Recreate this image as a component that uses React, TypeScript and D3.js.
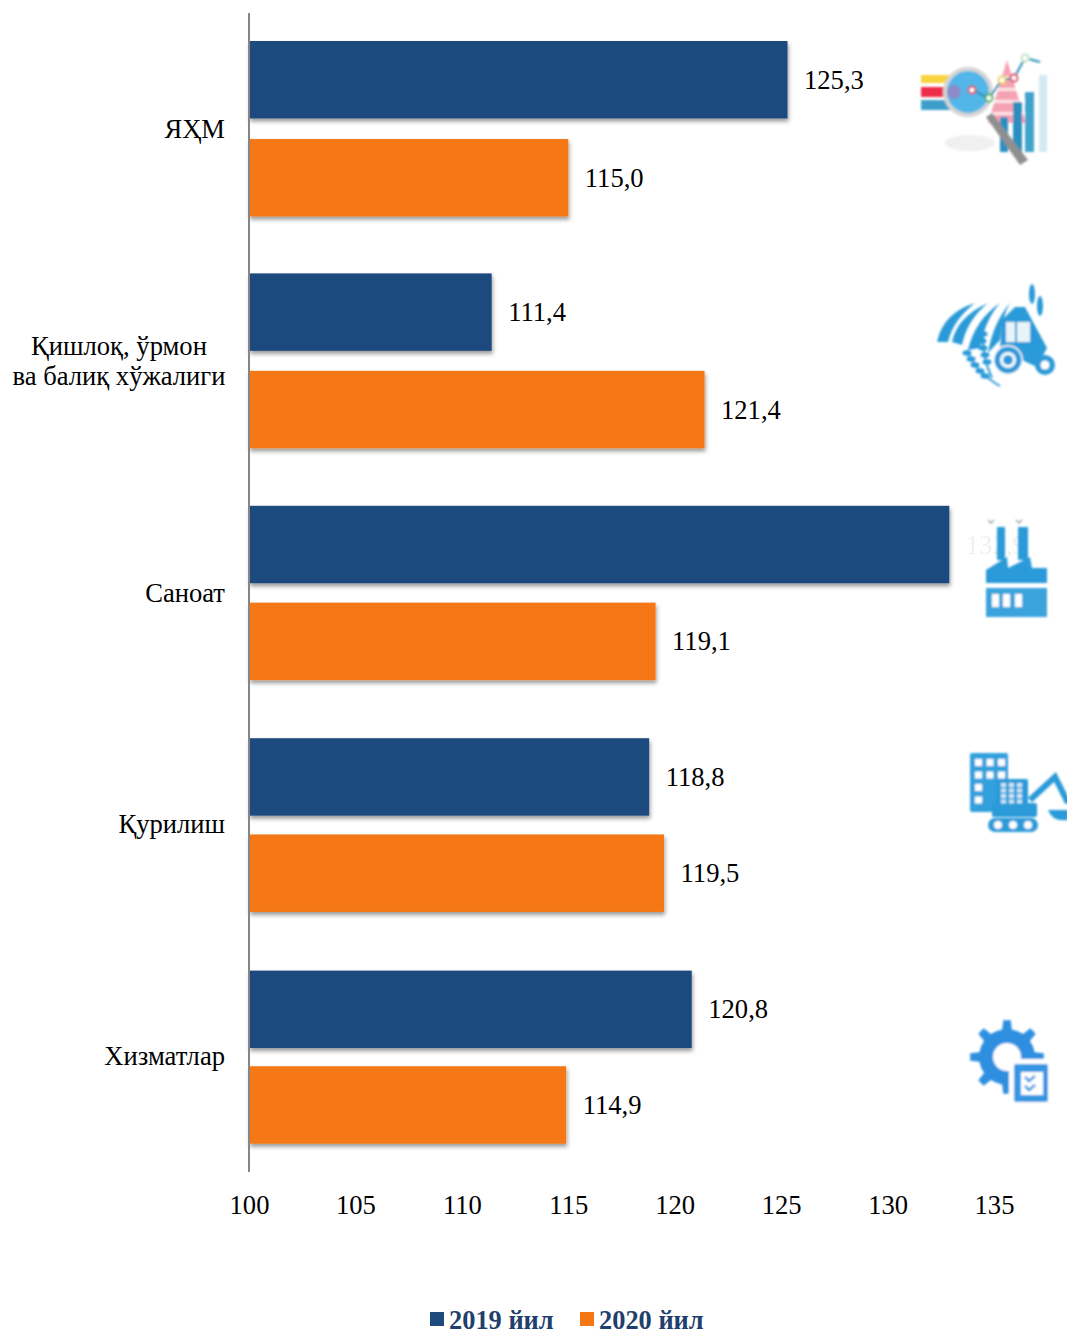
import { useEffect, useRef } from 'react';
import * as d3 from 'd3';

const categories = ['ЯҲМ', 'Қишлоқ, ўрмон|ва балиқ хўжалиги', 'Саноат', 'Қурилиш', 'Хизматлар'];
const seriesNames = ['2019 йил', '2020 йил'];
const values2019 = [125.3, 111.4, 132.9, 118.8, 120.8];
const values2020 = [115.0, 121.4, 119.1, 119.5, 114.9];
const xTicks = [100, 105, 110, 115, 120, 125, 130, 135];
const seriesColors = ['#1F4A7E', '#F57713'];

const WIDTH = 1067;
const HEIGHT = 1331;
const FONT = '"Liberation Serif", serif';
const FONT_SIZE = 26.6;
const ICON_BLUE = '#2C9AD8';

type Sel = d3.Selection<SVGGElement, unknown, null, undefined>;

function poly(g: Sel, pts: number[][], fill: string) {
  return g.append('path').attr('d', d3.line()(pts as [number, number][]) + 'Z').attr('fill', fill);
}

function box(g: Sel, x0: number, y0: number, x1: number, y1: number, fill: string, rx = 0) {
  return g.append('rect').attr('x', x0).attr('y', y0).attr('width', x1 - x0).attr('height', y1 - y0).attr('rx', rx).attr('fill', fill);
}

function drawAnalyticsIcon(g: Sel) {
  g.append('ellipse').attr('cx', 970).attr('cy', 143).attr('rx', 25).attr('ry', 8).attr('fill', '#f0f0f0');
  box(g, 921, 75, 955, 83, '#F7D33C');
  box(g, 921, 87, 950, 97, '#EC2F4B');
  box(g, 921, 100, 950, 110, '#3C9FC9');
  poly(g, [[1007, 60], [988, 123], [1026, 123]], '#F5A3B2');
  [76, 88, 100, 112].forEach((y) => {
    box(g, 985, y, 1030, y + 3, '#ffffff').attr('opacity', 0.7);
  });
  box(g, 1000, 117, 1008, 152, '#2A8FBF');
  box(g, 1013, 102, 1022, 152, '#2A8FBF');
  box(g, 1025, 92, 1034, 152, '#3FA3CC');
  box(g, 1039, 75, 1047, 152, '#D3EAF5');
  g.append('path').attr('d', 'M986 117 L992 113 L1028 160 L1020 165Z').attr('fill', '#8f8f8f');
  g.append('circle').attr('cx', 968).attr('cy', 92).attr('r', 23)
    .attr('fill', '#52B6E8').attr('stroke', '#d5d5d5').attr('stroke-width', 4);
  g.append('circle').attr('cx', 954).attr('cy', 92).attr('r', 7).attr('fill', '#8C8CC8');
  const linePts: [number, number][] = [[972, 90], [989, 98], [1002, 80], [1014, 78], [1025, 58], [1040, 62]];
  g.append('path').attr('d', d3.line()(linePts)).attr('fill', 'none').attr('stroke', '#2C8FB8').attr('stroke-width', 2);
  const dotColors = ['#D9405E', '#4CAF50', '#E8D34A', '#D9405E', '#BFE3C0'];
  linePts.slice(0, 5).forEach((p, i) => {
    g.append('circle').attr('cx', p[0]).attr('cy', p[1]).attr('r', 3.5)
      .attr('fill', '#fff').attr('stroke', dotColors[i]).attr('stroke-width', 2);
  });
}

function drawTractorIcon(g: Sel) {
  const furrows = [
    'M937 342 Q943 313 975 303 Q953 320 948 342Z',
    'M952 342 Q957 317 988 303 Q967 320 962 345Z',
    'M968 350 Q975 320 1000 303 Q985 320 980 348Z',
    'M988 353 Q993 323 1010 303 Q1002 317 1000 340Z',
  ];
  furrows.forEach((d) => g.append('path').attr('d', d).attr('fill', ICON_BLUE));
  poly(g, [[1002, 320], [1015, 307], [1025, 307], [1047, 348], [1037, 367], [1000, 350]], ICON_BLUE);
  box(g, 1006, 322, 1015, 342, '#e8f4fa');
  box(g, 1017, 322, 1030, 342, '#e8f4fa');
  g.append('circle').attr('cx', 1008).attr('cy', 360).attr('r', 15).attr('fill', '#fff');
  g.append('circle').attr('cx', 1008).attr('cy', 360).attr('r', 13.5).attr('fill', ICON_BLUE);
  g.append('circle').attr('cx', 1008).attr('cy', 360).attr('r', 8).attr('fill', '#fff');
  g.append('circle').attr('cx', 1008).attr('cy', 360).attr('r', 5).attr('fill', ICON_BLUE);
  g.append('circle').attr('cx', 1045).attr('cy', 365).attr('r', 10).attr('fill', ICON_BLUE);
  g.append('circle').attr('cx', 1045).attr('cy', 365).attr('r', 4.5).attr('fill', '#fff');
  g.append('ellipse').attr('cx', 1032).attr('cy', 294).attr('rx', 3).attr('ry', 10).attr('fill', ICON_BLUE);
  g.append('ellipse').attr('cx', 1040).attr('cy', 306).attr('rx', 3).attr('ry', 10).attr('fill', ICON_BLUE);
  g.append('path').attr('d', 'M967 350 Q975 372 1000 386 M983 330 Q982 358 992 378')
    .attr('fill', 'none').attr('stroke', ICON_BLUE).attr('stroke-width', 2);
  [[967, 353], [971, 359], [975, 365], [980, 371], [985, 376], [983, 334], [982, 341], [983, 348], [985, 355], [987, 362]].forEach(([x, y]) => {
    g.append('ellipse').attr('cx', x).attr('cy', y).attr('rx', 4.5).attr('ry', 2.8).attr('fill', ICON_BLUE);
  });
}

function drawFactoryIcon(g: Sel) {
  box(g, 997, 527, 1005, 560, ICON_BLUE);
  box(g, 1018, 527, 1028, 560, ICON_BLUE);
  poly(g, [[986, 570], [1007, 557], [1008, 568], [1030, 557], [1032, 568], [1047, 568], [1047, 583], [986, 583]], ICON_BLUE);
  box(g, 986, 588, 1047, 617, '#3BA3DC');
  [992, 1003, 1015].forEach((x) => box(g, x, 594, x + 7, 607, '#ffffff'));
  g.append('path').attr('d', 'M988 520 l3 3 l3 -3 M1016 520 l3 3 l3 -3')
    .attr('fill', 'none').attr('stroke', '#9aa7a0').attr('stroke-width', 1.5);
}

function drawBuilderIcon(g: Sel) {
  box(g, 970, 753, 1008, 812, '#33A0DC', 2);
  for (let r = 0; r < 4; r++) {
    for (let c = 0; c < 3; c++) {
      if (r > 1 && c > 0) continue;
      box(g, 975 + c * 11.5, 759 + r * 12.5, 982 + c * 11.5, 766 + r * 12.5, '#ffffff');
    }
  }
  box(g, 996, 779, 1028, 805, ICON_BLUE, 2);
  box(g, 992, 803, 1037, 817, ICON_BLUE, 2);
  for (let r = 0; r < 4; r++) {
    for (let c = 0; c < 3; c++) {
      box(g, 1001 + c * 8, 783 + r * 5.5, 1006 + c * 8, 787 + r * 5.5, '#cfe9f7');
    }
  }
  box(g, 988, 818, 1038, 832, ICON_BLUE, 7);
  [998, 1013, 1028].forEach((cx) => {
    g.append('circle').attr('cx', cx).attr('cy', 825).attr('r', 4).attr('fill', '#fff');
  });
  g.append('path').attr('d', 'M1030 800 L1055 777 L1068 803')
    .attr('fill', 'none').attr('stroke', ICON_BLUE).attr('stroke-width', 6);
  g.append('path').attr('d', 'M1048 810 L1068 810 L1068 820 Q1052 822 1048 810Z').attr('fill', ICON_BLUE);
}

function drawServiceIcon(g: Sel) {
  const cx = 1007;
  const cy = 1057;
  const teeth = 8;
  const pts: number[][] = [];
  for (let i = 0; i < teeth; i++) {
    const a = -Math.PI / 2 + (i * 2 * Math.PI) / teeth;
    const w = (2 * Math.PI) / teeth;
    [[-0.5, 28], [-0.22, 28], [-0.13, 37], [0.13, 37], [0.22, 28]].forEach(([t, r]) => {
      pts.push([cx + r * Math.cos(a + t * w), cy + r * Math.sin(a + t * w)]);
    });
  }
  poly(g, pts, '#2F8FE0');
  g.append('circle').attr('cx', cx).attr('cy', cy).attr('r', 14).attr('fill', '#fff');
  box(g, 1009, 1059, 1052, 1106, '#ffffff');
  box(g, 1014, 1064, 1048, 1102, '#3597E2', 2);
  box(g, 1021, 1072, 1043, 1095, '#ffffff');
  g.append('path').attr('d', 'M1025 1077 l4 4 l6 -5 M1025 1086 l4 4 l6 -5')
    .attr('fill', 'none').attr('stroke', '#3597E2').attr('stroke-width', 2.5);
}

export default function App() {
  const svgRef = useRef<SVGSVGElement>(null);

  useEffect(() => {
    if (!svgRef.current) return;
    const svg = d3.select(svgRef.current);
    svg.selectAll('*').remove();

    const x = d3.scaleLinear().domain([100, 135]).range([249, 994]);
    // in the source the 2019 bars step slightly wider than the 2020 bars and the axis
    const y2019 = d3.scaleBand().domain(categories).range([13, 1175]);
    const yAxisScale = d3.scaleBand().domain(categories).range([13, 1172]);
    const rowScales = [y2019, yAxisScale];
    const inner = d3.scaleBand().domain(seriesNames).range([28, 203.5]).paddingInner(0.21);

    const defs = svg.append('defs');
    const shadow = defs.append('filter').attr('id', 'bar-shadow')
      .attr('x', '-5%').attr('y', '-10%').attr('width', '110%').attr('height', '130%');
    shadow.append('feDropShadow').attr('dx', 1).attr('dy', 3).attr('stdDeviation', 2)
      .attr('flood-color', '#000').attr('flood-opacity', 0.4);
    const soft = defs.append('filter').attr('id', 'icon-soft');
    soft.append('feGaussianBlur').attr('stdDeviation', 1);

    const series = [values2019, values2020];
    seriesNames.forEach((name, s) => {
      const yPos = (i: number) => (rowScales[s](categories[i]) || 0) + (inner(name) || 0);
      svg.append('g')
        .selectAll('rect')
        .data(series[s])
        .enter()
        .append('rect')
        .attr('x', x(100))
        .attr('y', (_, i) => yPos(i))
        .attr('width', (d) => x(d) - x(100))
        .attr('height', inner.bandwidth())
        .attr('fill', seriesColors[s])
        .attr('filter', 'url(#bar-shadow)');

      svg.append('g')
        .selectAll('text')
        .data(series[s])
        .enter()
        .append('text')
        .attr('x', (d) => x(d) + 16.5)
        .attr('y', (_, i) => yPos(i) + inner.bandwidth() / 2 + 9)
        .attr('font-family', FONT)
        .attr('font-size', FONT_SIZE)
        .attr('fill', '#000')
        // the 132,9 label sits behind the factory picture in the source
        .attr('opacity', (d) => (d > 130 ? 0.06 : 1))
        .text((d) => d.toFixed(1).replace('.', ','));
    });

    const yAxis = svg.append('g')
      .attr('transform', `translate(${x(100)},0)`)
      .call(d3.axisLeft(yAxisScale).tickSize(0).tickPadding(24).tickFormat(() => ''));
    yAxis.select('.domain').remove();
    yAxis.append('line')
      .attr('y1', 13).attr('y2', 1172)
      .attr('stroke', '#868686').attr('stroke-width', 2);
    yAxis.selectAll<SVGTextElement, string>('text')
      .attr('font-family', FONT)
      .attr('font-size', FONT_SIZE)
      .attr('fill', '#000')
      .attr('dy', null)
      .each(function (d) {
        const lines = d.split('|');
        const el = d3.select(this);
        // wrapped labels are centred on each other, single ones sit against the axis
        if (lines.length > 1) el.attr('text-anchor', 'middle');
        lines.forEach((line, i) => {
          el.append('tspan')
            .attr('x', lines.length > 1 ? -130 : -24)
            .attr('y', 9 + (i - (lines.length - 1) / 2) * 30)
            .text(line);
        });
      });

    const xAxis = svg.append('g')
      .attr('transform', 'translate(0,1172)')
      .call(d3.axisBottom(x).tickValues(xTicks).tickSize(0).tickPadding(23).tickFormat((d) => String(d)));
    xAxis.select('.domain').remove();
    xAxis.selectAll('text')
      .attr('font-family', FONT)
      .attr('font-size', FONT_SIZE)
      .attr('fill', '#000');

    const legendSquares = [430, 580];
    const legendLabels = [449, 599];
    seriesNames.forEach((name, s) => {
      svg.append('rect')
        .attr('x', legendSquares[s]).attr('y', 1312)
        .attr('width', 14).attr('height', 14)
        .attr('fill', seriesColors[s]);
      svg.append('text')
        .attr('x', legendLabels[s]).attr('y', 1329)
        .attr('font-family', FONT)
        .attr('font-size', 26.4)
        .attr('font-weight', 700)
        .attr('fill', '#1F3F6E')
        .text(name);
    });

    const icons = svg.append('g').attr('filter', 'url(#icon-soft)') as unknown as Sel;
    drawAnalyticsIcon(icons);
    drawTractorIcon(icons);
    drawFactoryIcon(icons);
    drawBuilderIcon(icons);
    drawServiceIcon(icons);
  }, []);

  return (
    <svg
      ref={svgRef}
      width={WIDTH}
      height={HEIGHT}
      style={{ position: 'absolute', left: 0, top: 0, display: 'block', background: '#fff' }}
    />
  );
}
